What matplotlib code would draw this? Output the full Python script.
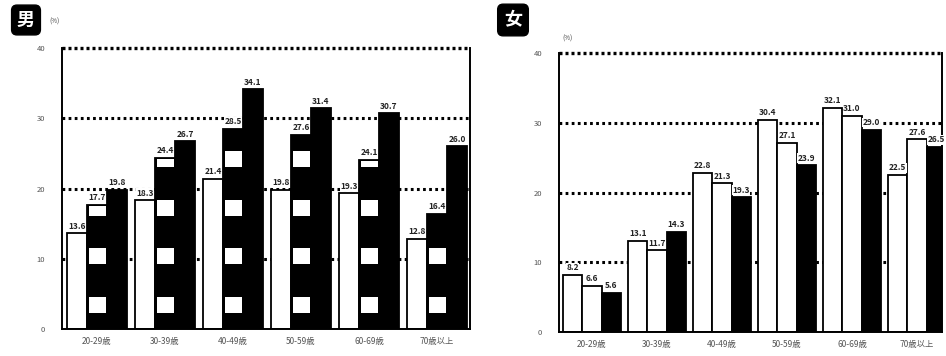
import matplotlib.pyplot as plt
import numpy as np

plt.rcParams['font.family'] = ['Noto Sans CJK JP', 'DejaVu Sans']

groups = ['20-29歳', '30-39歳', '40-49歳', '50-59歳', '60-69歳', '70歳以上']

# 男 (three series per age group)
male_a = [13.6, 18.3, 21.4, 19.8, 19.3, 12.8]
male_b = [17.7, 24.4, 28.5, 27.6, 24.1, 16.4]
male_c = [19.8, 26.7, 34.1, 31.4, 30.7, 26.0]

# 女
female_a = [8.2, 13.1, 22.8, 30.4, 32.1, 22.5]
female_b = [6.6, 11.7, 21.3, 27.1, 31.0, 27.6]
female_c = [5.6, 14.3, 19.3, 23.9, 29.0, 26.5]

yticks = [0, 10, 20, 30, 40]

fig = plt.figure(figsize=(9.46, 3.56), dpi=100)
ax_m = fig.add_axes([62 / 946, 27 / 356, 408 / 946, 281 / 356])
ax_f = fig.add_axes([559 / 946, 24 / 356, 383 / 946, 279 / 356])


def style_axes(ax, xlim):
    ax.set_ylim(0, 40)
    ax.set_xlim(*xlim)
    for y in [10, 20, 30]:
        ax.axhline(y, color='black', lw=2.2, ls=(0, (0.9, 1.1)), zorder=0)
    ax.axhline(40, color='black', lw=2.4, ls=(0, (0.9, 0.9)), zorder=0, clip_on=False)
    ax.spines['top'].set_visible(False)
    for s in ['left', 'right', 'bottom']:
        ax.spines[s].set_linewidth(1.4)
    ax.set_yticks(yticks)
    ax.set_yticklabels([str(t) for t in yticks], fontsize=5.5, color='#555555')
    ax.tick_params(axis='y', length=0, pad=12)
    ax.set_xticks(np.arange(len(groups)))
    ax.set_xticklabels(groups, fontsize=6, color='#555555')
    ax.tick_params(axis='x', length=0, pad=6)


def label(ax, xs, vals):
    for x, v in zip(xs, vals):
        ax.text(x, v + 0.4, '{:.1f}'.format(v), ha='center', va='bottom',
                fontsize=6, fontweight='bold', color='#222222',
                bbox=dict(fc='white', ec='none', pad=0.3), zorder=5)


x = np.arange(len(groups))

# --- 男 ---
w = 0.294
style_axes(ax_m, (-0.515, 5.485))
ax_m.bar(x - w, male_a, w, color='white', edgecolor='black', lw=1.3, zorder=2)
ax_m.bar(x, male_b, w, color='black', edgecolor='black', lw=1.3, zorder=2)
# white square pattern inside the second series
for base in [2.3, 9.2, 16.1, 23.0]:
    h = [min(2.3, max(0, v - base - 0.25)) for v in male_b]
    ax_m.bar(x + 0.01, h, w * 0.86, bottom=base, color='white', lw=0, zorder=3)
ax_m.bar(x + w, male_c, w, color='black', edgecolor='black', lw=1.3, zorder=2)
label(ax_m, x - w, male_a)
label(ax_m, x, male_b)
label(ax_m, x + w, male_c)

# --- 女 ---
w = 0.297
style_axes(ax_f, (-0.508, 5.385))
ax_f.bar(x - w, female_a, w, color='white', edgecolor='black', lw=1.3, zorder=2)
ax_f.bar(x, female_b, w, color='white', edgecolor='black', lw=1.3, zorder=2)
ax_f.bar(x + w, female_c, w, color='black', edgecolor='black', lw=1.3, zorder=2)
label(ax_f, x - w, female_a)
label(ax_f, x, female_b)
label(ax_f, x + w, female_c)

# headers
fig.text(26 / 946, 1 - 20 / 356, '男', fontsize=13, fontweight='bold', color='white',
         ha='center', va='center',
         bbox=dict(boxstyle='round,pad=0.3,rounding_size=0.3', fc='black', ec='black'))
fig.text(513 / 946, 1 - 20 / 356, '女', fontsize=13, fontweight='bold', color='white',
         ha='center', va='center',
         bbox=dict(boxstyle='round,pad=0.35,rounding_size=0.3', fc='black', ec='black'))
fig.text(54 / 946, 1 - 22 / 356, '(%)', fontsize=4.5, color='#444444', ha='center', va='center')
fig.text(567 / 946, 1 - 39 / 356, '(%)', fontsize=4.5, color='#444444', ha='center', va='center')

fig.savefig('out.png', dpi=100)
